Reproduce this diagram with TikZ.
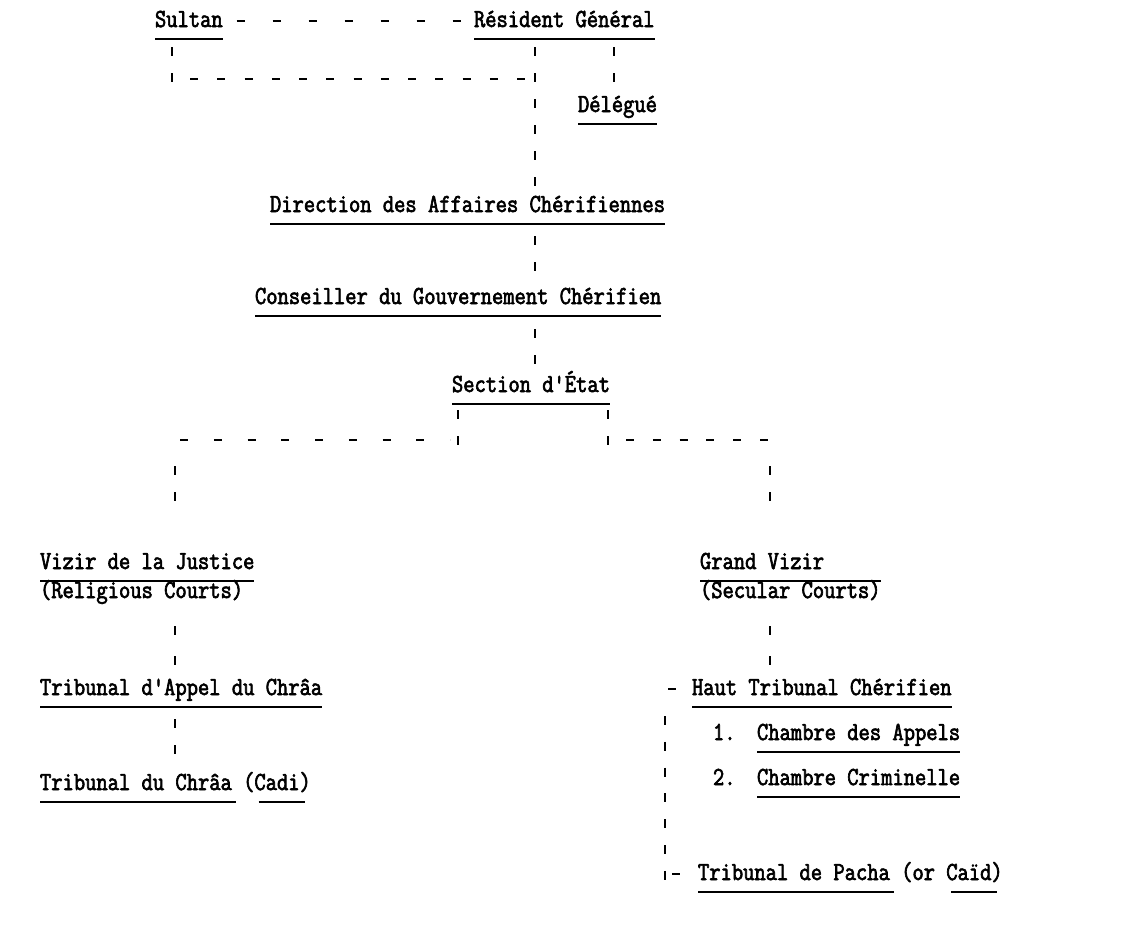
\documentclass[tikz,border=0pt]{standalone}
\usepackage{fontspec}
\setmonofont{Latin Modern Mono}[FakeStretch=0.843,FakeBold=2.5]
\usetikzlibrary{calc}
\newcommand\tw{\ttfamily\fontsize{26pt}{30pt}\selectfont}
\begin{document}
\begin{tikzpicture}[x=1pt,y=-1pt,
  lbl/.style={anchor=base west, inner sep=0pt, outer sep=0pt, font=\tw},
  ul/.style={line width=2.3pt},
  tk/.style={line width=2.7pt, dash pattern=on 9pt off 17pt},
  tkb/.style={line width=2.7pt, dash pattern=on 9pt off 16.8pt},
  hy/.style={line width=2.6pt}]
\useasboundingbox[fill=white] (0,0) rectangle (1140,938);

% typed entries
\node[lbl] (sultan)     at (155,27)  {Sultan};
\node[lbl] (resident)   at (474,27)  {Résident Général};
\node[lbl] (delegue)    at (578,112) {Délégué};
\node[lbl] (direction)  at (270,212) {Direction des Affaires Chérifiennes};
\node[lbl] (conseiller) at (255,304) {Conseiller du Gouvernement Chérifien};
\node[lbl] (section)    at (452,392) {Section d'État};
\node[lbl] (vizir)      at (40,569)  {Vizir de la Justice};
\node[lbl] (religious)  at (40,598)  {(Religious Courts)};
\node[lbl] (grand)      at (700,569) {Grand Vizir};
\node[lbl] (secular)    at (700,598) {(Secular Courts)};
\node[lbl] (appel)      at (40,695)  {Tribunal d'Appel du Chrâa};
\node[lbl] (chraa)      at (40,790)  {Tribunal du Chrâa (Cadi)};
\node[lbl] (haut)       at (692,695) {Haut Tribunal Chérifien};
\node[lbl] (num1)       at (713,740) {1.};
\node[lbl] (appels)     at (757,740) {Chambre des Appels};
\node[lbl] (num2)       at (713,785) {2.};
\node[lbl] (crim)       at (757,785) {Chambre Criminelle};
\node[lbl] (pacha)      at (698,880) {Tribunal de Pacha (or Caïd)};

% columns and rows of the dotted links
\coordinate (colS) at (172,0);
\coordinate (colC) at (535,0);
\coordinate (colD) at (614,0);
\coordinate (colL) at (175,0);
\coordinate (colR) at (770,0);
\coordinate (colF) at (458,0);
\coordinate (colG) at (608,0);
\coordinate (colB) at (665,0);
\coordinate (rowA) at (0,79);
\coordinate (rowB) at (0,440);

% underlines (one character is 11.5pt wide)
\foreach \n in {sultan,resident,delegue,direction,conseiller,section,vizir,appel,haut,appels,crim}
  \draw[ul] ($(\n.base west)+(0,12)$) -- ($(\n.base east)+(0,12)$);
\draw[ul] ($(grand.base west)+(0,12)$) -- ($(grand.base west -| secular.base east)+(0,12)$);
\draw[ul] ($(chraa.base west)+(0,12)$) -- +(195.5,0);
\draw[ul] ($(chraa.base west)+(218.5,12)$) -- +(46,0);
\draw[ul] ($(pacha.base west)+(0,12)$) -- +(195.5,0);
\draw[ul] ($(pacha.base west)+(253,12)$) -- +(46,0);

% Sultan -- Resident General
\draw[hy, dash pattern=on 8pt off 28pt] ($(sultan.base east)+(14,-6)$) -- ($(resident.base west)+(-12,-6)$);
\draw[tk] ($(sultan.base -| colS)+(0,20)$) -- ($(colS |- rowA)+(0,3)$);
\draw[hy, dash pattern=on 8pt off 19.25pt] ($(colS |- rowA)+(18,0)$) -- ($(colC |- rowA)+(-10,0)$);

% Resident General -- Delegue, Direction
\draw[tk] ($(resident.base -| colD)+(0,20)$) -- ($(delegue.base -| colD)+(0,-30)$);
\draw[tk] ($(resident.base -| colC)+(0,20)$) -- ($(direction.base -| colC)+(0,-22)$);

% Direction -- Conseiller -- Section d'Etat
\draw[tk] ($(direction.base -| colC)+(0,24)$) -- ($(conseiller.base -| colC)+(0,-33)$);
\draw[tk] ($(conseiller.base -| colC)+(0,25)$) -- ($(section.base -| colC)+(0,-28)$);

% Section d'Etat forks to the two viziers
\draw[tk] ($(section.base -| colF)+(0,18)$) -- ($(colF |- rowB)+(0,5)$);
\draw[tk] ($(section.base -| colG)+(0,18)$) -- ($(colG |- rowB)+(0,5)$);
\draw[hy, dash pattern=on 8pt off 25.75pt] ($(colL |- rowB)+(5,0)$) -- ($(colF |- rowB)+(-8,0)$);
\draw[hy, dash pattern=on 8pt off 18.8pt] ($(colG |- rowB)+(18,0)$) -- (colR |- rowB);
\draw[tk] ($(colL |- rowB)+(0,26)$) -- ($(vizir.base -| colL)+(0,-67)$);
\draw[tk] ($(colR |- rowB)+(0,26)$) -- ($(grand.base -| colR)+(0,-67)$);

% religious courts
\draw[tk, dash pattern=on 9pt off 21pt] ($(religious.base -| colL)+(0,28)$) -- ($(appel.base -| colL)+(0,-30)$);
\draw[tk] ($(appel.base -| colL)+(0,24)$) -- ($(chraa.base -| colL)+(0,-35)$);

% secular courts
\draw[tk, dash pattern=on 9pt off 21pt] ($(secular.base -| colR)+(0,28)$) -- ($(haut.base -| colR)+(0,-30)$);
\draw[hy] ($(haut.base west)+(-24,-6)$) -- ($(haut.base west)+(-16,-6)$);
\draw[tkb] ($(haut.base -| colB)+(0,21)$) -- (colB |- pacha.base);
\draw[hy] ($(pacha.base west)+(-26,-6)$) -- ($(pacha.base west)+(-18,-6)$);
\end{tikzpicture}
\end{document}
